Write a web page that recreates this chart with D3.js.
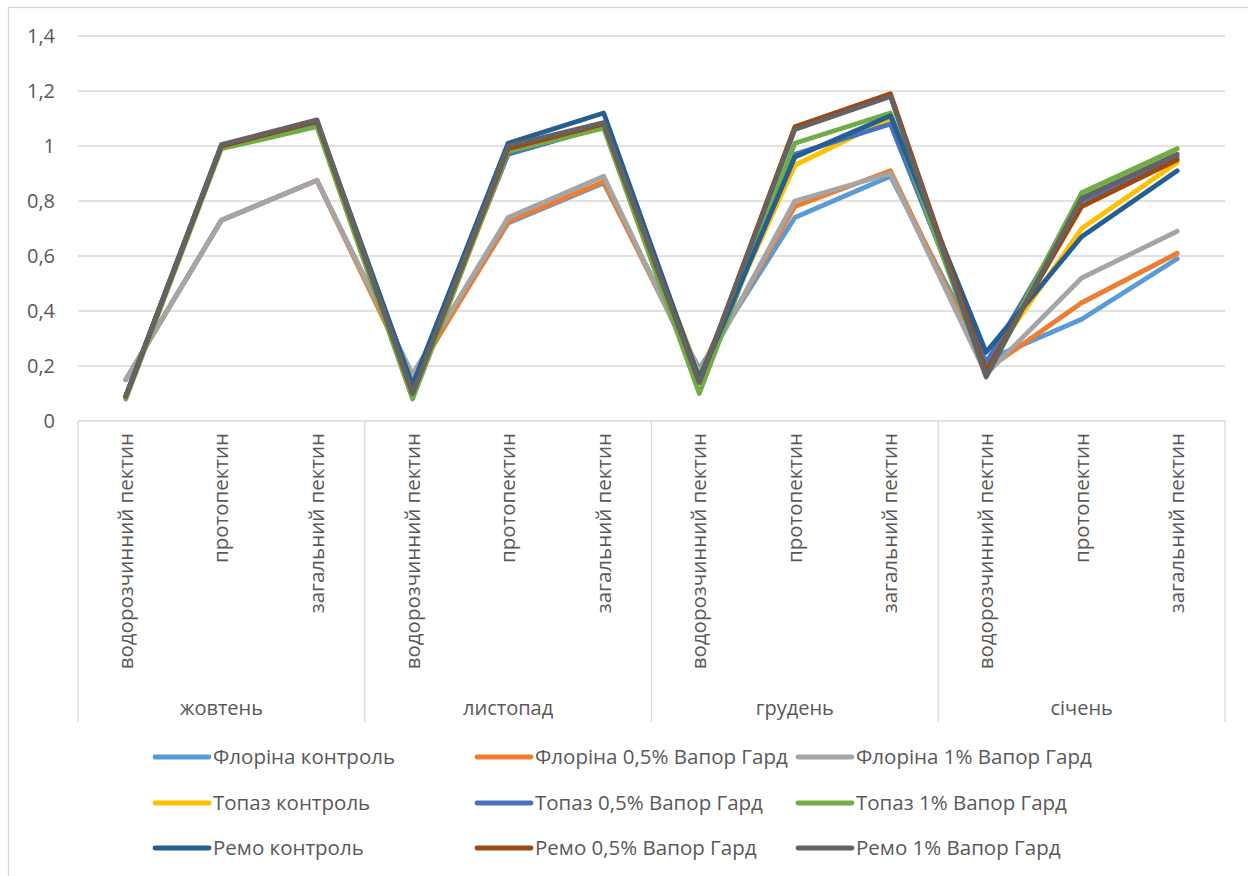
<!DOCTYPE html>
<html>
<head>
<meta charset="utf-8">
<script src="https://cdn.jsdelivr.net/npm/d3@7"></script>
<style>
  html, body { margin: 0; padding: 0; background: #fff; }
  svg { display: block; }
  text { font-family: "Open Sans", "Noto Sans", sans-serif; fill: #595959; }
</style>
</head>
<body>
<svg id="chart" width="1248" height="876"></svg>
<script>
// Months (outer category level) and pectin fractions (inner level)
const months = ["жовтень", "листопад", "грудень", "січень"];
const fractions = ["водорозчинний пектин", "протопектин", "загальний пектин"];

// Y-axis ticks
const yTicks = [0, 0.2, 0.4, 0.6, 0.8, 1, 1.2, 1.4];

// Series names and colours
const seriesNames = [
  "Флоріна контроль", "Флоріна 0,5% Вапор Гард", "Флоріна 1% Вапор Гард",
  "Топаз контроль", "Топаз 0,5% Вапор Гард", "Топаз 1% Вапор Гард",
  "Ремо контроль", "Ремо 0,5% Вапор Гард", "Ремо 1% Вапор Гард"
];
const seriesColors = [
  "#5B9BD5", "#ED7D31", "#A5A5A5",
  "#FFC000", "#4472C4", "#70AD47",
  "#255E91", "#9E480E", "#636363"
];

// Pectin content, 12 values per series (month × fraction)
const florinaControl = [0.15, 0.73, 0.875, 0.16, 0.72, 0.865, 0.19, 0.74, 0.89, 0.22, 0.37, 0.59];
const florina05      = [0.15, 0.73, 0.875, 0.15, 0.725, 0.87, 0.17, 0.78, 0.91, 0.185, 0.43, 0.61];
const florina1       = [0.15, 0.73, 0.875, 0.17, 0.74, 0.89, 0.16, 0.80, 0.90, 0.17, 0.52, 0.69];
const topazControl   = [0.09, 1.00, 1.08, 0.12, 0.98, 1.07, 0.17, 0.93, 1.10, 0.20, 0.70, 0.94];
const topaz05        = [0.09, 1.00, 1.08, 0.11, 0.97, 1.07, 0.16, 0.97, 1.08, 0.21, 0.80, 0.96];
const topaz1         = [0.08, 0.99, 1.07, 0.08, 0.98, 1.065, 0.10, 1.01, 1.12, 0.17, 0.83, 0.99];
const remoControl    = [0.09, 1.00, 1.09, 0.13, 1.01, 1.12, 0.15, 0.96, 1.11, 0.25, 0.67, 0.91];
const remo05         = [0.09, 1.00, 1.09, 0.10, 0.99, 1.08, 0.14, 1.07, 1.19, 0.18, 0.78, 0.95];
const remo1          = [0.09, 1.005, 1.095, 0.10, 1.00, 1.085, 0.14, 1.06, 1.18, 0.16, 0.81, 0.97];

const seriesValues = [florinaControl, florina05, florina1, topazControl, topaz05, topaz1, remoControl, remo05, remo1];

// Flattened category keys
const categories = [];
months.forEach(m => fractions.forEach(f => categories.push({ month: m, fraction: f, key: m + "|" + f })));

const svg = d3.select("#chart");
const gridColor = "#d9d9d9";

// Outer chart frame
svg.append("rect")
  .attr("x", 8.5).attr("y", 7.5).attr("width", 1260).attr("height", 900)
  .attr("fill", "none").attr("stroke", gridColor).attr("stroke-width", 1.3);

const plot = { left: 78, right: 1225, top: 36, bottom: 421 };

const x = d3.scaleBand()
  .domain(categories.map(c => c.key))
  .range([plot.left, plot.right])
  .padding(0);
const xc = k => x(k) + x.bandwidth() / 2;

const y = d3.scaleLinear().domain([0, 1.4]).range([plot.bottom, plot.top]);

// Horizontal gridlines
svg.append("g").selectAll("line")
  .data(yTicks.filter(t => t > 0))
  .join("line")
  .attr("x1", plot.left).attr("x2", plot.right)
  .attr("y1", d => y(d)).attr("y2", d => y(d))
  .attr("stroke", gridColor).attr("stroke-width", 1.3);

// Y axis labels (tick lines hidden)
const yAxis = d3.axisLeft(y)
  .tickValues(yTicks)
  .tickSize(0)
  .tickPadding(0)
  .tickFormat(d => String(d).replace(".", ","));
const yg = svg.append("g")
  .attr("transform", `translate(55,0)`)
  .call(yAxis);
yg.select(".domain").remove();
yg.selectAll("text")
  .attr("font-size", 20)
  .attr("font-family", "Open Sans")
  .attr("fill", "#595959");

// Category axis baseline
svg.append("line")
  .attr("x1", plot.left).attr("x2", plot.right)
  .attr("y1", y(0)).attr("y2", y(0))
  .attr("stroke", gridColor).attr("stroke-width", 1.3);

// Group separators between months
const sepBottom = 722;
const groupEdges = months.map(m => x(m + "|" + fractions[0])).concat([plot.right]);
svg.append("g").selectAll("line")
  .data(groupEdges)
  .join("line")
  .attr("x1", d => d).attr("x2", d => d)
  .attr("y1", y(0)).attr("y2", sepBottom)
  .attr("stroke", gridColor).attr("stroke-width", 1.3);

// Inner category labels (rotated)
svg.append("g").selectAll("text")
  .data(categories)
  .join("text")
  .attr("transform", d => `translate(${xc(d.key) + 7},433) rotate(-90)`)
  .attr("text-anchor", "end")
  .attr("font-size", 20.5)
  .text(d => d.fraction);

// Month labels
svg.append("g").selectAll("text")
  .data(months)
  .join("text")
  .attr("x", m => xc(m + "|" + fractions[1]))
  .attr("y", 715)
  .attr("text-anchor", "middle")
  .attr("font-size", 20)
  .text(m => m);

// Series lines
const line = d3.line()
  .x((v, i) => xc(categories[i].key))
  .y(v => y(v));

svg.append("g").selectAll("path")
  .data(seriesValues)
  .join("path")
  .attr("d", d => line(d))
  .attr("fill", "none")
  .attr("stroke", (d, i) => seriesColors[i])
  .attr("stroke-width", 4.8)
  .attr("stroke-linejoin", "round")
  .attr("stroke-linecap", "round");

// Legend: 3 columns × 3 rows
const legCols = [155, 477, 798];
const legRows = [757, 803, 848];
const leg = svg.append("g").selectAll("g")
  .data(seriesNames)
  .join("g")
  .attr("transform", (d, i) => `translate(${legCols[i % 3]},${legRows[Math.floor(i / 3)]})`);
leg.append("line")
  .attr("x1", 0).attr("x2", 54).attr("y1", 0).attr("y2", 0)
  .attr("stroke", (d, i) => seriesColors[i])
  .attr("stroke-width", 4.8)
  .attr("stroke-linecap", "round");
leg.append("text")
  .attr("x", 58).attr("y", 7)
  .attr("font-size", 20.5)
  .text(d => d);
</script>
</body>
</html>
